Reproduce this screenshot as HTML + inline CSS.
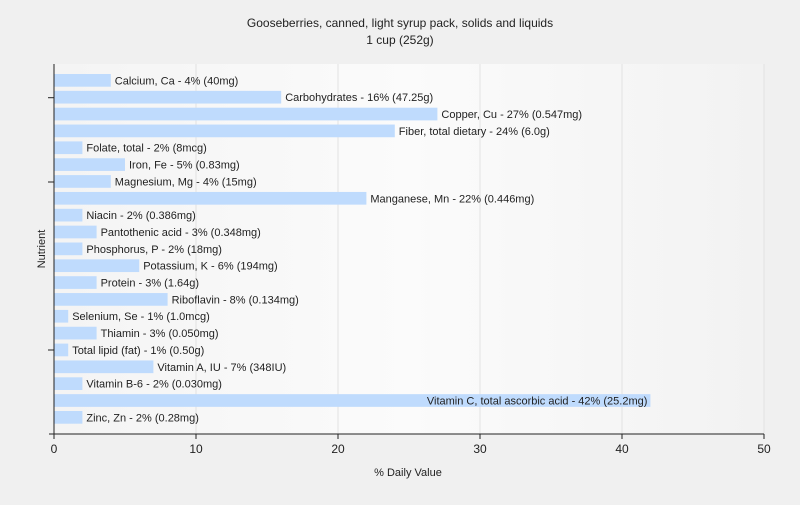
<!DOCTYPE html>
<html><head><meta charset="utf-8"><style>
body{margin:0;background:#f0f0f0;font-family:"Liberation Sans",sans-serif}
svg text{font-family:"Liberation Sans",sans-serif}
</style></head><body>
<svg width="800" height="500" xmlns="http://www.w3.org/2000/svg">
<defs><linearGradient id="bg" x1="0" x2="1" y1="0" y2="0"><stop offset="0" stop-color="#f4f4f4"/><stop offset="0.5" stop-color="#fbfbfb"/><stop offset="1" stop-color="#f2f2f2"/></linearGradient></defs>
<rect width="800" height="500" fill="#f0f0f0"/>
<rect x="54" y="64" width="710" height="370" fill="url(#bg)"/>
<text x="400" y="27" text-anchor="middle" font-size="12" fill="#222">Gooseberries, canned, light syrup pack, solids and liquids</text>
<text x="400" y="44" text-anchor="middle" font-size="12" fill="#222">1 cup (252g)</text>
<g id="grid"></g><g id="bars"></g><g id="axes"></g>
<text x="408" y="476" text-anchor="middle" font-size="11" fill="#222">% Daily Value</text>
<text x="45" y="249" text-anchor="middle" font-size="11" fill="#222" transform="rotate(-90 45 249)">Nutrient</text>
</svg>
<script>
const names=["Calcium, Ca","Carbohydrates","Copper, Cu","Fiber, total dietary","Folate, total","Iron, Fe","Magnesium, Mg","Manganese, Mn","Niacin","Pantothenic acid","Phosphorus, P","Potassium, K","Protein","Riboflavin","Selenium, Se","Thiamin","Total lipid (fat)","Vitamin A, IU","Vitamin B-6","Vitamin C, total ascorbic acid","Zinc, Zn"];
const values=[4,16,27,24,2,5,4,22,2,3,2,6,3,8,1,3,1,7,2,42,2];
const amounts=["40mg","47.25g","0.547mg","6.0g","8mcg","0.83mg","15mg","0.446mg","0.386mg","0.348mg","18mg","194mg","1.64g","0.134mg","1.0mcg","0.050mg","0.50g","348IU","0.030mg","25.2mg","0.28mg"];
const xTicks=[0,10,20,30,40,50];
const NS="http://www.w3.org/2000/svg";
const X0=54,X1=764,XMAX=50;
const x=v=>X0+(X1-X0)*v/XMAX;
const y=i=>80.3+i*16.85;
function mk(t,a,p){const e=document.createElementNS(NS,t);for(const k in a)e.setAttribute(k,a[k]);p.appendChild(e);return e;}
const grid=document.getElementById('grid'),bars=document.getElementById('bars'),axes=document.getElementById('axes');
xTicks.forEach(t=>{
 if(t>0){const g=mk('line',{x1:x(t),x2:x(t),y1:64,y2:434,stroke:'#e2e2e2'},grid);
 
 }
 const tk=mk('line',{x1:x(t),x2:x(t),y1:434,y2:439,stroke:'#222'},axes);
 
 
 const tl=mk('text',{x:x(t),y:453,'text-anchor':'middle','font-size':12,fill:'#222'},axes);
 tl.textContent=t;
 
 
});
names.forEach((n,i)=>{
 const b=mk('rect',{x:X0,y:y(i)-6.3,width:x(values[i])-X0,height:12.7,fill:'#bfdbfd'},bars);
 
 
 const lbl=n+' - '+values[i]+'% ('+amounts[i]+')';
 const inside=values[i]>35;
 const t=mk('text',{x:inside?x(values[i])-3:x(values[i])+4,y:y(i)+4,'font-size':11,fill:'#222','text-anchor':inside?'end':'start'},bars);
 t.textContent=lbl;
 
 
});
const ya=mk('line',{x1:54,x2:54,y1:64,y2:434,stroke:'#222'},axes);


const xa=mk('line',{x1:49,x2:764,y1:434,y2:434,stroke:'#222'},axes);


[97.7,182,350].forEach((v,k)=>{const l=mk('line',{x1:48,x2:54,y1:v,y2:v,stroke:'#222'},axes);
 
 });
</script>
</body></html>
